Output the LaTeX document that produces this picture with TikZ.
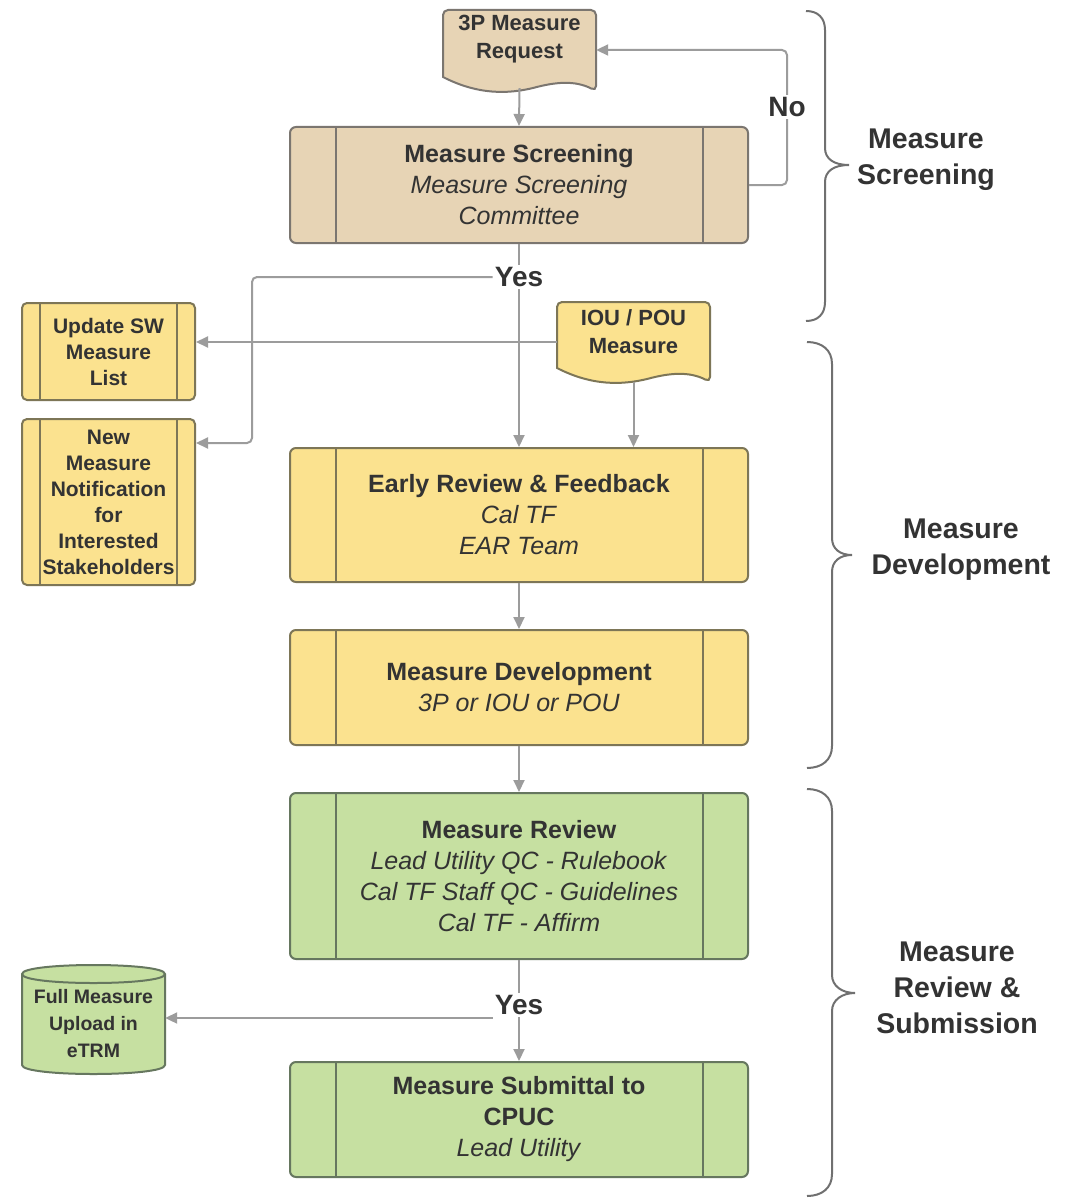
\documentclass[tikz,border=0pt]{standalone}
\usepackage{fontspec}
\setmainfont{Liberation Sans}
\usetikzlibrary{arrows.meta,calc}
\definecolor{beigef}{HTML}{E7D4B5}
\definecolor{beigeb}{HTML}{7B7670}
\definecolor{yelf}{HTML}{FBE28F}
\definecolor{yelb}{HTML}{7D7657}
\definecolor{grnf}{HTML}{C6E0A1}
\definecolor{grnb}{HTML}{66775F}
\definecolor{lineg}{HTML}{9C9C9C}
\definecolor{txt}{HTML}{333333}
\definecolor{bracec}{HTML}{707070}
\begin{document}
\begin{tikzpicture}[x=1pt,y=-1pt,
  conn/.style={draw=lineg, line width=2pt, -{Triangle[length=12pt,width=11pt]}},
  brace/.style={draw=bracec, line width=2pt},
  procbox/.style={rectangle, rounded corners=6pt, line width=2pt, draw=#1,
    minimum width=458pt, inner sep=0pt, align=center, text=txt,
    font=\fontsize{25}{31}\selectfont,
    path picture={\draw[line width=2pt,#1]
      ([xshift=46pt]path picture bounding box.north west) -- ([xshift=46pt]path picture bounding box.south west)
      ([xshift=-45pt]path picture bounding box.north east) -- ([xshift=-45pt]path picture bounding box.south east);}},
  sidebox/.style={rectangle, rounded corners=5pt, line width=2pt, draw=#1,
    minimum width=173pt, inner sep=0pt, align=center, text=txt,
    font=\bfseries\fontsize{21}{26}\selectfont,
    path picture={\draw[line width=2pt,#1]
      ([xshift=18pt]path picture bounding box.north west) -- ([xshift=18pt]path picture bounding box.south west)
      ([xshift=-18pt]path picture bounding box.north east) -- ([xshift=-18pt]path picture bounding box.south east);}},
  geom/.style={rectangle, draw=none, inner sep=0pt},
  doctext/.style={align=center, text=txt, inner sep=0pt, font=\bfseries\fontsize{22}{28}\selectfont},
  lbl/.style={fill=white, text=txt, inner sep=2pt, font=\bfseries\fontsize{28}{34}\selectfont},
  seclbl/.style={align=center, text=txt, inner sep=0pt, font=\bfseries\fontsize{28.5}{36}\selectfont}
]
\useasboundingbox[fill=white] (0,0) rectangle (1066,1204);

% ---------- braces ----------
\draw[brace] (806,11) .. controls (818,11) and (825,18) .. (825,30) -- (825,148)
  .. controls (825,159) and (834,165) .. (849,165)
  .. controls (834,165) and (825,171) .. (825,182) -- (825,302)
  .. controls (825,314) and (818,321) .. (806,321);
\draw[brace] (807,342) .. controls (822,342) and (832,350) .. (832,364) -- (832,538)
  .. controls (832,549) and (840,555) .. (852,555)
  .. controls (840,555) and (832,561) .. (832,572) -- (832,746)
  .. controls (832,760) and (822,768) .. (807,768);
\draw[brace] (807,789) .. controls (822,789) and (832,797) .. (832,811) -- (832,975)
  .. controls (832,986) and (842,993) .. (855,993)
  .. controls (842,993) and (832,1000) .. (832,1011) -- (832,1174)
  .. controls (832,1188) and (822,1196) .. (807,1196);
\node[seclbl] (s1) at (926,160) {Measure\\Screening};
\node[seclbl] (s2) at (961,550) {Measure\\Development};
\node[seclbl] (s3) at (957,988) {Measure\\Review \&\\Submission};

% ---------- document shapes ----------
\filldraw[fill=beigef, draw=beigeb, line width=2pt, rounded corners=5pt]
  (443,77) -- (443,10) -- (596,10) -- (596,91) [sharp corners]
  .. controls (575,80) and (555,82) .. (533,88)
  .. controls (508,94) and (478,95) .. (443,77) -- cycle;
\node[geom, minimum width=153pt, minimum height=78pt] (req) at (519.5,49) {};
\node[doctext] (reqt) at (519.5,39) {3P Measure\\Request};

\filldraw[fill=yelf, draw=yelb, line width=2pt, rounded corners=5pt]
  (557,368) -- (557,302) -- (710,302) -- (710,382) [sharp corners]
  .. controls (689,371) and (669,373) .. (647,379)
  .. controls (622,385) and (592,386) .. (557,368) -- cycle;
\node[geom, minimum width=153pt, minimum height=80pt] (iou) at (633.5,342) {};
\node[doctext] (iout) at (633.5,332) {IOU / POU\\Measure};

% ---------- cylinder ----------
\filldraw[fill=grnf, draw=grnb, line width=2pt]
  (22,974) -- (22,1065) .. controls (22,1077) and (165,1077) .. (165,1065)
  -- (165,974) .. controls (165,962) and (22,962) .. (22,974) -- cycle;
\draw[draw=grnb, line width=2pt] (22,974) .. controls (22,986) and (165,986) .. (165,974);
\node[geom, minimum width=143pt, align=center, text=txt, font=\bfseries\fontsize{19.5}{27}\selectfont] (etrm) at (93.5,1024) {Full Measure\\Upload in\\eTRM};

% ---------- process boxes ----------
\node[procbox=beigeb, fill=beigef, minimum height=116pt] (scr) at (519,185)
  {\textbf{Measure Screening}\\\textit{Measure Screening}\\\textit{Committee}};
\node[procbox=yelb, fill=yelf, minimum height=134pt] (early) at (519,515)
  {\textbf{Early Review \& Feedback}\\\textit{Cal TF}\\\textit{EAR Team}};
\node[procbox=yelb, fill=yelf, minimum height=115pt] (dev) at (519,687.5)
  {\textbf{Measure Development}\\\textit{3P or IOU or POU}};
\node[procbox=grnb, fill=grnf, minimum height=166pt] (rev) at (519,876)
  {\textbf{Measure Review}\\\textit{Lead Utility QC - Rulebook}\\\textit{Cal TF Staff QC - Guidelines}\\\textit{Cal TF - Affirm}};
\node[procbox=grnb, fill=grnf, minimum height=115pt] (sub) at (519,1119.5)
  {\textbf{Measure Submittal to}\\\textbf{CPUC}\\\textit{Lead Utility}};
\node[sidebox=yelb, fill=yelf, minimum height=97pt] (upd) at (108.5,351.5)
  {Update SW\\Measure\\List};
\node[sidebox=yelb, fill=yelf, minimum height=166pt] (notif) at (108.5,502)
  {New\\Measure\\Notification\\for\\Interested\\Stakeholders};

% ---------- connectors ----------
\draw[conn] (req.south) -- (scr.north);
\draw[conn, rounded corners=5pt] (scr.east) -- (787,185) -- (787,50) -- (req.east |- 0,50);
\draw[conn] (scr.south) -- (early.north);
\draw[conn] (iou.west) -- (upd.east |- iou.west);
\draw[conn] (iou.south) -- (iou.south |- early.north);
\draw[conn] (early.south) -- (dev.north);
\draw[conn] (dev.south) -- (rev.north);
\draw[conn] (rev.south) -- (sub.north);

\node[lbl] (no) at (787,107) {No};
\node[lbl] (yes1) at (519,277) {Yes};
\node[lbl] (yes2) at (519,1005) {Yes};

\draw[conn, rounded corners=5pt] (yes1.west) -- (252,277) -- (252,443) -- (notif.east |- 0,443);
\draw[conn] (yes2.west |- 0,1018) -- (etrm.east |- 0,1018);
\end{tikzpicture}
\end{document}
